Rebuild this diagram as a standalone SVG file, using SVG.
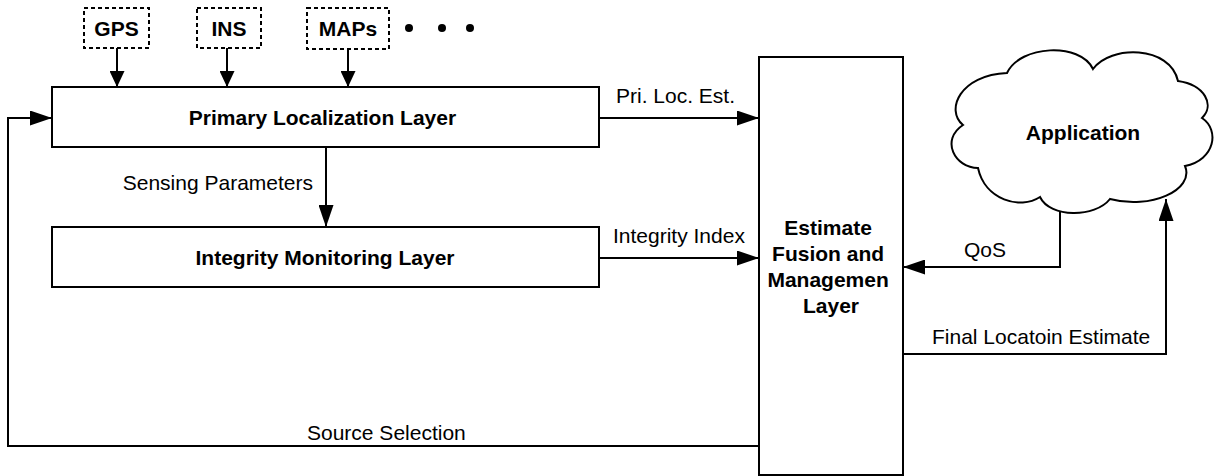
<svg xmlns="http://www.w3.org/2000/svg" width="1214" height="476" viewBox="0 0 1214 476">
<style>
  .box{fill:#fff;stroke:#000;stroke-width:2}
  .dash{fill:#fff;stroke:#000;stroke-width:2;stroke-dasharray:4 3}
  .ln{fill:none;stroke:#000;stroke-width:2}
  .b{font-family:"Liberation Sans",Arial,sans-serif;font-weight:bold;font-size:21px;fill:#000}
  .r{font-family:"Liberation Sans",Arial,sans-serif;font-size:21px;fill:#000}
</style>
<defs>
  <marker id="ah" markerUnits="userSpaceOnUse" markerWidth="22" markerHeight="15" refX="22" refY="7.5" orient="auto">
    <path d="M0,0 L22,7.5 L0,15 z" fill="#000"/>
  </marker>
  <marker id="ahs" markerUnits="userSpaceOnUse" markerWidth="16" markerHeight="15" refX="16" refY="7.5" orient="auto">
    <path d="M0,0 L16,7.5 L0,15 z" fill="#000"/>
  </marker>
</defs>
<rect width="1214" height="476" fill="#fff"/>
<g id="connectors">
  <line class="ln" x1="117" y1="48" x2="117" y2="87" marker-end="url(#ahs)"/>
  <line class="ln" x1="227" y1="48" x2="227" y2="87" marker-end="url(#ahs)"/>
  <line class="ln" x1="348" y1="49" x2="348" y2="87" marker-end="url(#ahs)"/>
  <line class="ln" x1="326" y1="147" x2="326" y2="227" marker-end="url(#ah)"/>
  <line class="ln" x1="599" y1="118" x2="759" y2="118" marker-end="url(#ah)"/>
  <line class="ln" x1="599" y1="258" x2="759" y2="258" marker-end="url(#ah)"/>
  <path class="ln" d="M1060 211 V267 H903" marker-end="url(#ah)"/>
  <path class="ln" d="M903 354 H1166 V199" marker-end="url(#ah)"/>
  <path class="ln" d="M759 446 H8 V118 H52" marker-end="url(#ah)"/>
  <text class="r" x="313" y="190" text-anchor="end">Sensing Parameters</text>
  <text class="r" x="616" y="103">Pri. Loc. Est.</text>
  <text class="r" x="613" y="243">Integrity Index</text>
  <text class="r" x="964" y="257">QoS</text>
  <text class="r" x="932" y="344">Final Locatoin Estimate</text>
  <text class="r" x="307" y="440">Source Selection</text>
</g>
<g id="gps">
  <rect class="dash" x="84" y="8" width="65" height="40"/>
  <text class="b" x="116.5" y="35.5" text-anchor="middle">GPS</text>
</g>
<g id="ins">
  <rect class="dash" x="197" y="8" width="64" height="40"/>
  <text class="b" x="229" y="35.5" text-anchor="middle">INS</text>
</g>
<g id="maps">
  <rect class="dash" x="307" y="8" width="82" height="41"/>
  <text class="b" x="348" y="36" text-anchor="middle">MAPs</text>
</g>
<g id="dots">
  <circle cx="409" cy="28" r="4"/>
  <circle cx="442" cy="28" r="4"/>
  <circle cx="470" cy="28" r="4"/>
</g>
<g id="primary">
  <rect class="box" x="52" y="87" width="547" height="60"/>
  <text class="b" x="322.5" y="125" text-anchor="middle">Primary Localization Layer</text>
</g>
<g id="integrity">
  <rect class="box" x="52" y="227" width="547" height="60"/>
  <text class="b" x="325" y="264.5" text-anchor="middle">Integrity Monitoring Layer</text>
</g>
<g id="fusion">
  <rect class="box" x="759" y="57" width="144" height="418"/>
  <text class="b" text-anchor="middle">
    <tspan x="831" y="234.5">Estimate</tspan>
    <tspan x="831" y="260.5">Fusion and</tspan>
    <tspan x="831" y="286.5">Managemen</tspan>
    <tspan x="831" y="312.5">Layer</tspan>
  </text>
</g>
<g id="application">
  <path class="box" d="M1007 73 C1020 45,1080 42,1093 69 C1110 45,1170 45,1178 81 C1205 85,1215 105,1202 118 C1220 130,1215 160,1185 166 C1195 190,1150 210,1110 199 C1095 218,1050 218,1040 197 C1020 210,985 200,978 168 C955 168,940 140,963 125 C945 110,960 75,1007 73 Z"/>
  <text class="b" x="1083" y="140" text-anchor="middle">Application</text>
</g>
</svg>
